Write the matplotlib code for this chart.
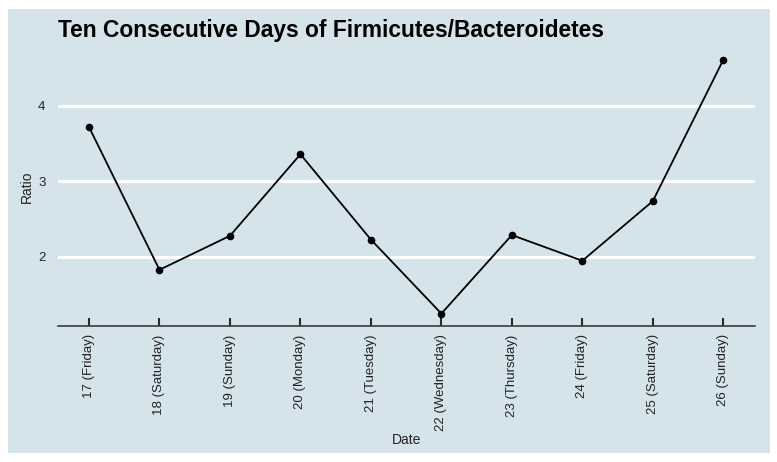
import matplotlib.pyplot as plt
from matplotlib.patches import Rectangle

plt.rcParams['font.family'] = ['Liberation Sans', 'DejaVu Sans']

days = ['17 (Friday)', '18 (Saturday)', '19 (Sunday)', '20 (Monday)', '21 (Tuesday)',
        '22 (Wednesday)', '23 (Thursday)', '24 (Friday)', '25 (Saturday)', '26 (Sunday)']
ratio = [3.72, 1.83, 2.28, 3.36, 2.23, 1.25, 2.29, 1.95, 2.74, 4.61]
y_ticks = [2, 3, 4]

bg = '#d5e4eb'
W, H = 777, 462

fig = plt.figure(figsize=(W / 100, H / 100), dpi=100)
fig.patch.set_facecolor('white')
# light blue panel behind everything
fig.patches.append(Rectangle((8 / W, 9 / H), 762 / W, 444 / H, transform=fig.transFigure,
                             facecolor=bg, edgecolor='none', zorder=-1))

ax = fig.add_axes([58 / W, 136 / H, 697 / W, 279 / H])
ax.set_facecolor(bg)

x = list(range(1, len(days) + 1))
ax.plot(x, ratio, color='black', lw=1.3, marker='o', ms=4.5, zorder=3)

ax.set_xlim(0.56, 10.45)
ax.set_ylim(1.086, 4.78)
ax.set_xticks(x)
ax.set_xticklabels(days, rotation=90, fontsize=9.5, color='#222222')
ax.set_yticks(y_ticks)
ax.set_yticklabels([str(v) for v in y_ticks], fontsize=9.5, color='#222222')

ax.grid(axis='y', color='white', lw=2.2)
ax.set_axisbelow(True)
for s in ['top', 'right', 'left']:
    ax.spines[s].set_visible(False)
ax.spines['bottom'].set_color('#3a3a3a')
ax.spines['bottom'].set_linewidth(1.2)
ax.tick_params(axis='x', direction='in', length=6, width=1.5, color='#2a2a2a', pad=6)
ax.tick_params(axis='y', length=0, pad=9)

ax.set_xlabel('Date', fontsize=10, color='#222222', labelpad=1)
ax.set_ylabel('Ratio', fontsize=10, color='#222222', labelpad=3)

fig.text(58 / W, 1 - 31 / H, 'Ten Consecutive Days of Firmicutes/Bacteroidetes',
         fontsize=16.4, fontweight='bold', va='center', ha='left')

fig.savefig('out.png', dpi=100)
